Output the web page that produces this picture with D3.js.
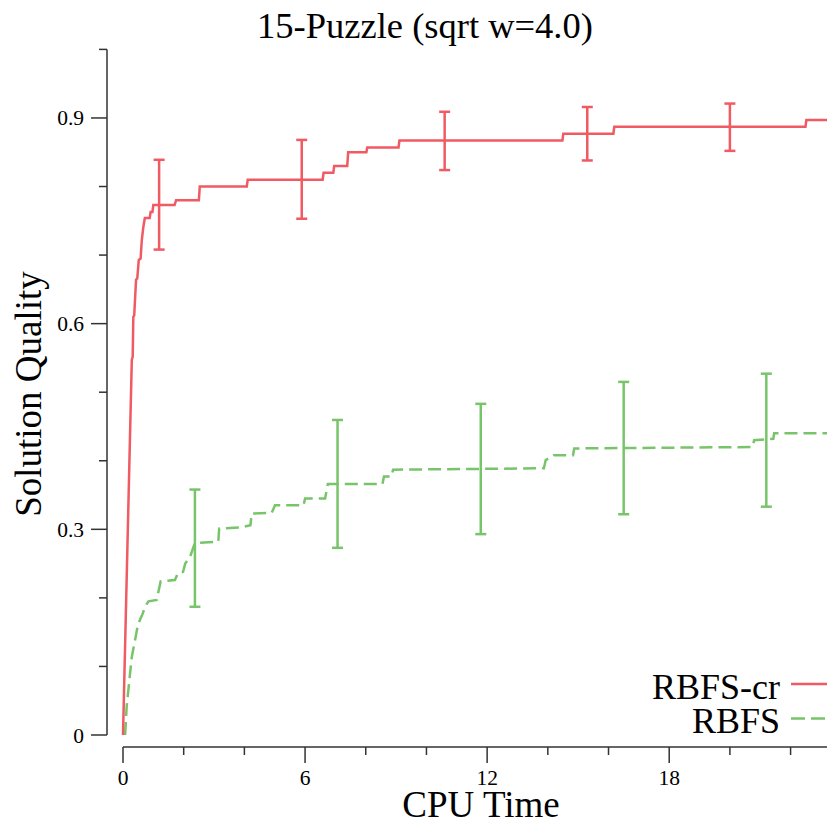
<!DOCTYPE html>
<html>
<head>
<meta charset="utf-8">
<script src="https://cdn.jsdelivr.net/npm/d3@7"></script>
<style>
  body { margin: 0; background: #fff; }
  text { font-family: "Liberation Serif", "DejaVu Serif", serif; fill: #000; }
</style>
</head>
<body>
<svg id="chart"></svg>
<script>
const width = 827, height = 824;

// RBFS-cr (red, solid) curve points [cpu time, quality]
const rbfsCr = [
  [0, 0], [0.29, 0.547], [0.32, 0.552], [0.34, 0.61], [0.37, 0.612], [0.43, 0.664],
  [0.47, 0.666], [0.52, 0.693], [0.58, 0.695], [0.62, 0.722], [0.67, 0.741],
  [0.72, 0.754], [0.88, 0.754], [0.91, 0.763], [0.97, 0.763], [1.0, 0.773],
  [1.70, 0.773], [1.75, 0.780], [2.50, 0.780], [2.53, 0.80], [4.08, 0.80],
  [4.11, 0.81], [6.58, 0.81], [6.61, 0.82], [6.93, 0.82], [6.96, 0.83],
  [7.39, 0.83], [7.42, 0.85], [8.02, 0.85], [8.05, 0.857], [9.08, 0.857],
  [9.11, 0.867], [14.48, 0.867], [14.51, 0.877], [16.16, 0.877], [16.19, 0.887],
  [22.49, 0.887], [22.52, 0.897], [23.5, 0.897]
];

// RBFS (green, dashed) curve points
const rbfs = [
  [0.07, 0], [0.12, 0.041], [0.21, 0.080], [0.29, 0.114], [0.40, 0.139],
  [0.48, 0.158], [0.56, 0.168], [0.65, 0.177], [0.72, 0.187], [0.84, 0.195],
  [1.11, 0.197], [1.24, 0.224], [1.71, 0.226], [1.81, 0.236], [1.98, 0.238],
  [2.05, 0.250], [2.21, 0.260], [2.37, 0.280], [3.14, 0.282], [3.17, 0.301],
  [3.91, 0.303], [4.20, 0.306], [4.24, 0.323], [4.90, 0.324], [5.01, 0.335],
  [5.95, 0.335], [6.0, 0.345], [6.66, 0.345], [6.75, 0.366], [8.55, 0.366],
  [8.60, 0.377], [8.85, 0.377], [8.90, 0.387], [13.87, 0.389], [13.93, 0.401],
  [14.2, 0.408], [14.83, 0.408], [14.87, 0.418], [20.74, 0.420], [20.8, 0.430],
  [21.43, 0.432], [21.46, 0.440], [23.5, 0.440]
];

// error bars
const rbfsCrBarT = [1.19, 5.89, 10.6, 15.3, 20.0];
const rbfsCrBarLo = [0.708, 0.753, 0.824, 0.838, 0.852];
const rbfsCrBarHi = [0.839, 0.868, 0.909, 0.916, 0.921];
const rbfsBarT = [2.37, 7.07, 11.79, 16.5, 21.2];
const rbfsBarLo = [0.187, 0.273, 0.293, 0.322, 0.333];
const rbfsBarHi = [0.358, 0.4595, 0.483, 0.515, 0.527];

const xTicks = d3.range(0, 23, 2);
const xLabels = [0, 6, 12, 18];
const yTicks = d3.range(0, 11).map(i => i / 10);
const yLabels = [0, 0.3, 0.6, 0.9];

const red = '#ef5a63', green = '#78c46a';

const x = d3.scaleLinear().domain([0, 23.2]).range([123, 827]);
const y = d3.scaleLinear().domain([0, 1]).range([735, 49.4]);

const svg = d3.select('#chart')
  .attr('width', width)
  .attr('height', height);

// title
svg.append('text').attr('x', 425).attr('y', 38)
  .attr('text-anchor', 'middle').style('font-size', '36.5px')
  .text('15-Puzzle (sqrt w=4.0)');

// y axis
const yAxis = svg.append('g');
yAxis.append('line').attr('x1', 107).attr('x2', 107)
  .attr('y1', y(1)).attr('y2', y(0))
  .attr('stroke', '#333').attr('stroke-width', 1.5);
yAxis.selectAll('.ytick').data(yTicks).join('line')
  .attr('x1', (d) => yLabels.some(v => Math.abs(v - d) < 1e-9) ? 91 : 99)
  .attr('x2', 107)
  .attr('y1', (d) => y(d)).attr('y2', (d) => y(d))
  .attr('stroke', '#333').attr('stroke-width', 1.5);
yAxis.selectAll('.ylab').data(yLabels).join('text')
  .attr('x', 84).attr('y', (d) => y(d) + 7.5)
  .attr('text-anchor', 'end').style('font-size', '21.5px')
  .text((d) => d);

// x axis
const xAxis = svg.append('g');
xAxis.append('line').attr('x1', x(0)).attr('x2', width)
  .attr('y1', 747).attr('y2', 747)
  .attr('stroke', '#333').attr('stroke-width', 1.5);
xAxis.selectAll('.xtick').data(xTicks).join('line')
  .attr('x1', (d) => x(d)).attr('x2', (d) => x(d))
  .attr('y1', 747)
  .attr('y2', (d) => xLabels.includes(d) ? 763 : 755)
  .attr('stroke', '#333').attr('stroke-width', 1.5);
xAxis.selectAll('.xlab').data(xLabels).join('text')
  .attr('x', (d) => x(d)).attr('y', 785)
  .attr('text-anchor', 'middle').style('font-size', '21.5px')
  .text((d) => d);

// axis titles
svg.append('text').attr('x', 481).attr('y', 817)
  .attr('text-anchor', 'middle').style('font-size', '37px')
  .text('CPU Time');
svg.append('text')
  .attr('transform', 'translate(41,394) rotate(-90)')
  .attr('text-anchor', 'middle').style('font-size', '37px')
  .text('Solution Quality');

const line = d3.line().x((d) => x(d[0])).y((d) => y(d[1]));

function drawBars(ts, lo, hi, color) {
  const g = svg.append('g').attr('stroke', color).attr('stroke-width', 2.5);
  ts.forEach((t, i) => {
    g.append('line').attr('x1', x(t)).attr('x2', x(t)).attr('y1', y(lo[i])).attr('y2', y(hi[i]));
    g.append('line').attr('x1', x(t) - 5.5).attr('x2', x(t) + 5.5).attr('y1', y(lo[i])).attr('y2', y(lo[i]));
    g.append('line').attr('x1', x(t) - 5.5).attr('x2', x(t) + 5.5).attr('y1', y(hi[i])).attr('y2', y(hi[i]));
  });
}

svg.append('path').datum(rbfs).attr('d', line)
  .attr('fill', 'none').attr('stroke', green).attr('stroke-width', 2.5)
  .attr('stroke-dasharray', '13,6');
drawBars(rbfsBarT, rbfsBarLo, rbfsBarHi, green);

svg.append('path').datum(rbfsCr).attr('d', line)
  .attr('fill', 'none').attr('stroke', red).attr('stroke-width', 2.5);
drawBars(rbfsCrBarT, rbfsCrBarLo, rbfsCrBarHi, red);

// legend
const legend = [['RBFS-cr', red, null, 684, 699], ['RBFS', green, '14,6', 718.5, 733]];
legend.forEach(([name, color, dash, ly, ty]) => {
  svg.append('text').attr('x', 780).attr('y', ty)
    .attr('text-anchor', 'end').style('font-size', '36px').text(name);
  svg.append('line').attr('x1', 791).attr('x2', 840).attr('y1', ly).attr('y2', ly)
    .attr('stroke', color).attr('stroke-width', 2.5)
    .attr('stroke-dasharray', dash);
});
</script>
</body>
</html>
